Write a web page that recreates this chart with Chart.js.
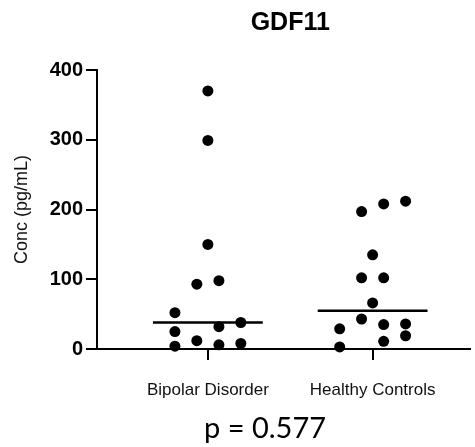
<!DOCTYPE html>
<html>
<head>
<meta charset="utf-8">
<script src="https://cdn.jsdelivr.net/npm/chart.js@4"></script>
<style>
  html, body { margin: 0; padding: 0; background: #fff; }
  #wrap { width: 475px; height: 447px; position: relative; }
</style>
</head>
<body>
<div id="wrap"><canvas id="gdfChart"></canvas></div>
<script>
// groups on the x axis
const categories = ['Bipolar Disorder', 'Healthy Controls'];

// GDF11 concentrations (pg/mL)
const bipolarValues = [370, 299, 150, 93, 98, 52, 25, 12, 32, 38, 4, 6, 8];
const controlValues = [197, 208, 212, 135, 102, 102, 66, 43, 29, 35, 36, 19, 11, 3];

// horizontal scatter of each dot, in category widths
const bipolarJitter = [0, 0, 0, -0.067, 0.067, -0.2, -0.2, -0.067, 0.067, 0.2, -0.2, 0.067, 0.2];
const controlJitter = [-0.067, 0.067, 0.2, 0, -0.067, 0.067, 0, -0.067, -0.2, 0.067, 0.2, 0.2, 0.067, -0.2];

// median bars
const medians = [38, 55];

const yTicks = [0, 100, 200, 300, 400];
const pValueText = 'p = 0.577';

function toPoints(values, jitter, group) {
    return values.map((v, i) => ({ x: group + jitter[i], y: v }));
}

const medianSets = medians.map((m, i) => ({
    type: 'line',
    data: [{ x: i - 1 / 3, y: m }, { x: i + 1 / 3, y: m }],
    borderColor: '#000',
    borderWidth: 2.5,
    pointRadius: 0,
    clip: false
}));

// title and p value drawn by hand so they can sit off-centre like the original
const textPlugin = {
    id: 'textPlugin',
    afterDraw(chart) {
        const ctx = chart.ctx;
        const xs = chart.scales.x;
        ctx.save();
        ctx.fillStyle = '#000';
        ctx.textAlign = 'center';
        ctx.textBaseline = 'middle';
        ctx.font = 'bold 25px "Liberation Sans", Arial, sans-serif';
        ctx.fillText('GDF11', xs.getPixelForValue(0.5), 23);
        ctx.font = '29px Lato, "Open Sans", sans-serif';
        ctx.fillText(pValueText, 265, 429);
        ctx.restore();
    }
};

const ctx = document.getElementById('gdfChart').getContext('2d');

const gdfChart = new Chart(ctx, {
    type: 'scatter',
    data: {
        datasets: [
            {
                data: toPoints(bipolarValues, bipolarJitter, 0),
                backgroundColor: '#000',
                borderWidth: 0,
                pointRadius: 5.5,
                clip: false
            },
            {
                data: toPoints(controlValues, controlJitter, 1),
                backgroundColor: '#000',
                borderWidth: 0,
                pointRadius: 5.5,
                clip: false
            },
            ...medianSets
        ]
    },
    options: {
        responsive: true,
        maintainAspectRatio: false,
        animation: false,
        layout: {
            padding: { top: 70, right: 0, bottom: 0, left: 0 }
        },
        plugins: {
            legend: { display: false },
            tooltip: { enabled: false }
        },
        scales: {
            x: {
                type: 'linear',
                min: -0.673,
                max: 1.588,
                afterBuildTicks: function(scale) {
                    scale.ticks = categories.map((c, i) => ({ value: i }));
                },
                afterFit: function(scale) {
                    scale.height = 98;
                },
                ticks: {
                    callback: function(value) {
                        return categories[value];
                    },
                    color: '#111',
                    padding: 20,
                    maxRotation: 0,
                    autoSkip: false,
                    font: {
                        family: '"Liberation Sans", Arial, sans-serif',
                        size: 17
                    }
                },
                grid: {
                    drawOnChartArea: false,
                    drawTicks: true,
                    tickLength: 11,
                    color: '#000',
                    lineWidth: 2
                },
                border: { color: '#000', width: 2 }
            },
            y: {
                min: 0,
                max: 400,
                afterBuildTicks: function(scale) {
                    scale.ticks = yTicks.map(v => ({ value: v }));
                },
                afterFit: function(scale) {
                    scale.width = 97;
                },
                ticks: {
                    color: '#000',
                    padding: 3,
                    font: {
                        family: '"Liberation Sans", Arial, sans-serif',
                        size: 20,
                        weight: 'bold'
                    }
                },
                title: {
                    display: true,
                    text: 'Conc (pg/mL)',
                    color: '#111',
                    padding: { top: 11, bottom: 0 },
                    font: {
                        family: '"Liberation Sans", Arial, sans-serif',
                        size: 18
                    }
                },
                grid: {
                    drawOnChartArea: false,
                    drawTicks: true,
                    tickLength: 11,
                    color: '#000',
                    lineWidth: 2
                },
                border: { color: '#000', width: 2 }
            }
        }
    },
    plugins: [textPlugin]
});
</script>
</body>
</html>
